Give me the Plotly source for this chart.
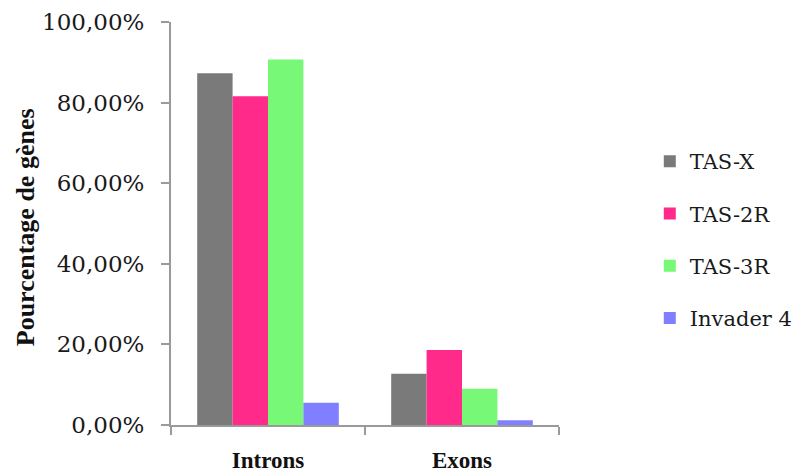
import plotly.graph_objects as go

categories = ["Introns", "Exons"]
series_names = ["TAS-X", "TAS-2R", "TAS-3R", "Invader 4"]
tas_x = [0.873, 0.127]
tas_2r = [0.816, 0.186]
tas_3r = [0.907, 0.090]
invader_4 = [0.055, 0.012]
y_ticks = [0, 0.2, 0.4, 0.6, 0.8, 1.0]
y_tick_labels = ["0,00%", "20,00%", "40,00%", "60,00%", "80,00%", "100,00%"]

colors = ["#7a7a7a", "#ff2a89", "#77f977", "#7f7fff"]
values = [tas_x, tas_2r, tas_3r, invader_4]

fig = go.Figure()
for i, (name, vals) in enumerate(zip(series_names, values)):
    fig.add_trace(go.Bar(
        x=categories, y=vals, name=name, legendgroup=name,
        marker=dict(color=colors[i], line=dict(width=0)),
    ))

# the page body adds ~8px around the figure, so the figure is 8px smaller
fig.update_layout(
    width=792, height=464,
    margin=dict(l=163, r=241, t=14, b=47, autoexpand=False),
    plot_bgcolor="white", paper_bgcolor="white",
    barmode="group", bargap=0.27, bargroupgap=0,
    font=dict(family="DejaVu Serif", color="#1a1a1a"),
    legend=dict(
        x=1.234, y=0.459, xanchor="left", yanchor="middle",
        font=dict(family="DejaVu Serif", size=21, color="#1a1a1a"),
        tracegroupgap=22, itemwidth=30,
    ),
    annotations=[dict(
        text="Pourcentage de gènes", textangle=-90,
        xref="paper", yref="paper", x=-0.376, y=0.491,
        xanchor="center", yanchor="middle",
        showarrow=False,
        font=dict(family="Liberation Serif", size=26, color="#111111", weight="bold"),
    )],
)
fig.update_xaxes(
    showline=True, linecolor="#9a9a9a", linewidth=2, automargin=False,
    ticks="outside", tickson="boundaries", ticklen=8, tickcolor="#9a9a9a", tickwidth=2,
    tickfont=dict(family="Liberation Serif", size=23, color="#111111", weight="bold"),
    ticklabelstandoff=13,
)
fig.update_yaxes(
    range=[0, 1.0], tickvals=y_ticks, ticktext=y_tick_labels, automargin=False,
    showgrid=False, zeroline=False,
    showline=True, linecolor="#9a9a9a", linewidth=2,
    ticks="outside", ticklen=8, tickcolor="#9a9a9a", tickwidth=2,
    tickfont=dict(family="DejaVu Serif", size=23, color="#1a1a1a"),
    ticklabelstandoff=12,
)

fig.write_html("out.html")
